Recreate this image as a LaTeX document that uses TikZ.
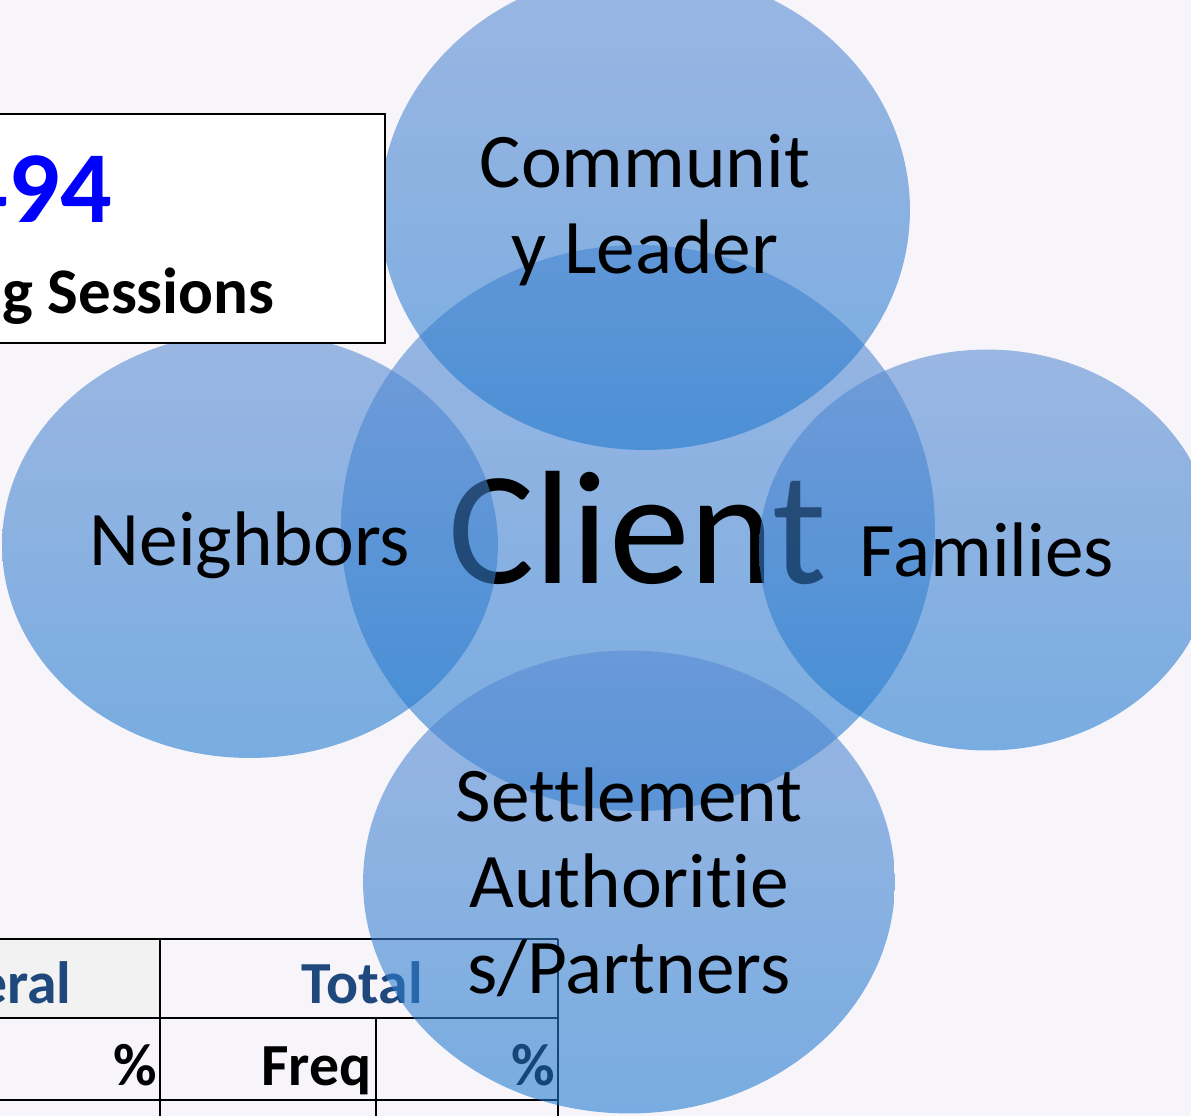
\documentclass[tikz,border=0pt]{standalone}
\usepackage{fontspec}
\setmainfont{Carlito}[Ligatures=CommonOff]
\usetikzlibrary{shapes.geometric}

\definecolor{slidebg}{RGB}{247,245,250}
\definecolor{bubbletop}{RGB}{88,138,210}
\definecolor{bubblebot}{RGB}{30,120,206}
\definecolor{headblue}{RGB}{31,73,125}
\definecolor{headgrey}{RGB}{242,242,242}
\definecolor{countblue}{RGB}{0,0,255}

\begin{document}
\begin{tikzpicture}[x=0.02cm, y=-0.02cm,
    bubble/.style={ellipse, inner sep=0pt, outer sep=0pt, top color=bubbletop, bottom color=bubblebot,
        fill opacity=0.58, text opacity=1, align=center, font=\fontsize{44}{49}\selectfont},
    headtext/.style={inner sep=0pt, anchor=base east, font=\bfseries\fontsize{34}{40}\selectfont},
    gridline/.style={line width=1.3pt}
    ]
        \useasboundingbox (0,0) rectangle (1191,1116);
        \clip (0,0) rectangle (1191,1116);
        \fill[slidebg] (0,0) rectangle (1191,1116);

        %Table
        \fill[headgrey] (-10,939) rectangle (160,1018);
        \draw[gridline] (-10,939) -- (558,939);
        \draw[gridline] (-10,1018) -- (558,1018);
        \draw[gridline] (-10,1100) -- (558,1100);
        \draw[gridline] (160,939) -- (160,1126);
        \draw[gridline] (376,1018) -- (376,1126);
        \draw[gridline] (558,939) -- (558,1126);
        \node[headtext, text=headblue] (general) at (72,1003) {General};
        \node[headtext, text=headblue] (total) at (423,1003) {Total};
        \node[headtext] (pctgen) at (157,1085) {\%};
        \node[headtext] (freq) at (372,1085) {Freq};
        \node[headtext] (pcttot) at (555,1085) {\%};

        %Bubbles
        \node[bubble, minimum width=11.88cm, minimum height=11.32cm, font=\fontsize{92}{100}\selectfont]
            (client) at (638,528) {Client};
        \node[bubble, minimum width=10.6cm, minimum height=9.6cm]
            (leader) at (645,210) {Communit\\y Leader};
        \node[bubble, minimum width=9.12cm, minimum height=8.02cm]
            (families) at (987,550) {Families};
        \node[bubble, minimum width=10.64cm, minimum height=9.26cm]
            (settlement) at (629,882) {Settlement\\Authoritie\\s/Partners};
        \node[bubble, minimum width=9.92cm, minimum height=8.52cm]
            (neighbors) at (250,545) {Neighbors};

        %Count box
        \node[draw, fill=white, line width=1.2pt, inner sep=0pt, minimum width=7.9cm, minimum height=4.58cm]
            (countbox) at (187.5,228.5) {};
        \node[inner sep=0pt, anchor=base east, text=countblue, font=\bfseries\fontsize{58}{64}\selectfont]
            (count) at (112,222) {494};
        \node[inner sep=0pt, anchor=base east, font=\bfseries\fontsize{37}{44}\selectfont]
            (sessions) at (275,313) {g Sessions};
    \end{tikzpicture}
\end{document}
